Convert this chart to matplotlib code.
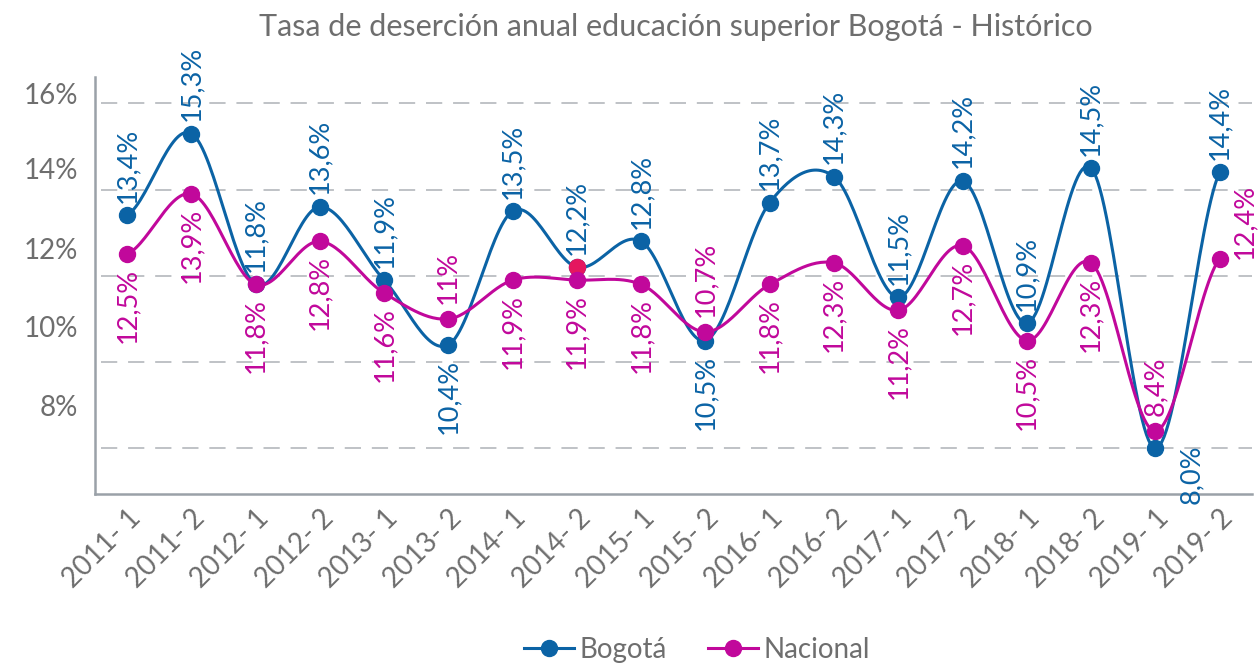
import matplotlib
matplotlib.use("Agg")
from matplotlib import pyplot as plt
from matplotlib.lines import Line2D
from matplotlib.transforms import ScaledTranslation
import numpy as np

# data
periods = ["2011- 1", "2011- 2", "2012- 1", "2012- 2", "2013- 1", "2013- 2",
           "2014- 1", "2014- 2", "2015- 1", "2015- 2", "2016- 1", "2016- 2",
           "2017- 1", "2017- 2", "2018- 1", "2018- 2", "2019- 1", "2019- 2"]
bogota = [13.4, 15.3, 11.8, 13.6, 11.9, 10.4, 13.5, 12.2, 12.8, 10.5,
          13.7, 14.3, 11.5, 14.2, 10.9, 14.5, 8.0, 14.4]
nacional = [12.5, 13.9, 11.8, 12.8, 11.6, 11.0, 11.9, 11.9, 11.8, 10.7,
            11.8, 12.3, 11.2, 12.7, 10.5, 12.3, 8.4, 12.4]
bogota_txt = ["13,4%", "15,3%", "11,8%", "13,6%", "11,9%", "10,4%", "13,5%", "12,2%", "12,8%",
              "10,5%", "13,7%", "14,3%", "11,5%", "14,2%", "10,9%", "14,5%", "8,0%", "14,4%"]
nacional_txt = ["12,5%", "13,9%", "11,8%", "12,8%", "11,6%", "11%", "11,9%", "11,9%", "11,8%",
                "10,7%", "11,8%", "12,3%", "11,2%", "12,7%", "10,5%", "12,3%", "8,4%", "12,4%"]
grid_vals = [8, 10, 12, 14, 16]
ytick_txt = ["8%", "10%", "12%", "14%", "16%"]

BLUE = "#0b63a5"
MAG = "#c1089b"
GRAY = "#6e6e6e"
FONT = ["Lato", "DejaVu Sans"]

plt.rcParams["font.family"] = FONT


def smooth(y, n=30):
    # Catmull-Rom style smoothing like a spreadsheet "smoothed line"
    y = np.asarray(y, float)
    x = np.arange(len(y), dtype=float)
    ys = np.concatenate([[y[0]], y, [y[-1]]])
    xs_out, ys_out = [], []
    t = np.linspace(0, 1, n)
    for i in range(len(y) - 1):
        p0, p1, p2, p3 = ys[i], ys[i + 1], ys[i + 2], ys[i + 3]
        m1 = (p2 - p0) / 2
        m2 = (p3 - p1) / 2
        h00 = 2 * t**3 - 3 * t**2 + 1
        h10 = t**3 - 2 * t**2 + t
        h01 = -2 * t**3 + 3 * t**2
        h11 = t**3 - t**2
        xs_out.append(x[i] + t)
        ys_out.append(h00 * p1 + h10 * m1 + h01 * p2 + h11 * m2)
    return np.concatenate(xs_out), np.concatenate(ys_out)


fig = plt.figure(figsize=(12.58, 6.64), dpi=100)
ax = fig.add_axes([0.0755, 0.256, 0.9195, 0.628])
x = np.arange(len(periods))

for v in grid_vals:
    ax.axhline(v, xmin=0.005, color="#babdc1", lw=1.3, ls=(0, (9, 6)), zorder=0)

sx, sy = smooth(bogota)
ax.plot(sx, sy, color=BLUE, lw=2.2, zorder=2)
ax.plot(x, bogota, "o", color=BLUE, ms=11.5, zorder=3)
# 2014-2 Bogotá marker is drawn red in the original
ax.plot(x[7], bogota[7], "o", color="#e5175f", ms=11.5, zorder=3)
sx, sy = smooth(nacional)
ax.plot(sx, sy, color=MAG, lw=2.2, zorder=4)
ax.plot(x, nacional, "o", color=MAG, ms=11.5, zorder=5)

# data labels
LFS = 19.5
b_below = {5, 9}
for i, (v, t) in enumerate(zip(bogota, bogota_txt)):
    if i == 16:
        ax.annotate(t, (i, v), xytext=(26, 3), textcoords="offset points",
                    rotation=90, ha="center", va="top", color=BLUE, fontsize=LFS)
    elif i in b_below:
        ax.annotate(t, (i, v), xytext=(0, -10), textcoords="offset points",
                    rotation=90, ha="center", va="top", color=BLUE, fontsize=LFS)
    else:
        ax.annotate(t, (i, v), xytext=(0, 9), textcoords="offset points",
                    rotation=90, ha="center", va="bottom", color=BLUE, fontsize=LFS)

n_above = {5, 9, 16}
for i, (v, t) in enumerate(zip(nacional, nacional_txt)):
    if i == 17:
        ax.annotate(t, (i, v), xytext=(18, 0), textcoords="offset points",
                    rotation=90, ha="center", va="bottom", color=MAG, fontsize=LFS)
    elif i in n_above:
        ax.annotate(t, (i, v), xytext=(0, 11), textcoords="offset points",
                    rotation=90, ha="center", va="bottom", color=MAG, fontsize=LFS)
    else:
        ax.annotate(t, (i, v), xytext=(0, -10), textcoords="offset points",
                    rotation=90, ha="center", va="top", color=MAG, fontsize=LFS)

ax.set_xlim(-0.5, len(periods) - 0.5)
ax.set_ylim(6.94, 16.61)
ax.set_xticks(x)
ax.set_xticklabels(periods, rotation=45, ha="right", va="top",
                   rotation_mode="anchor", color=GRAY, fontsize=20)
shift = ScaledTranslation(12 / 100, 0, fig.dpi_scale_trans)
for lab in ax.get_xticklabels():
    lab.set_transform(lab.get_transform() + shift)
# y labels in the original sit above their gridlines
ax.set_yticks([9.0, 10.82, 12.64, 14.49, 16.22])
ax.set_yticklabels(ytick_txt, color=GRAY, fontsize=20)
ax.tick_params(length=0)
ax.tick_params(axis="x", pad=8)
ax.tick_params(axis="y", pad=12)
for s in ["top", "right"]:
    ax.spines[s].set_visible(False)
for s in ["left", "bottom"]:
    ax.spines[s].set_color("#9aa1a8")
    ax.spines[s].set_linewidth(1.8)

fig.text(0.537, 1 - 27 / 664, "Tasa de deserción anual educación superior Bogotá - Histórico",
         ha="center", va="center", color=GRAY, fontsize=22)

handles = [Line2D([], [], color=BLUE, lw=2.2, marker="o", ms=11.5),
           Line2D([], [], color=MAG, lw=2.2, marker="o", ms=11.5)]
fig.legend(handles, ["Bogotá", "Nacional"], loc="center", bbox_to_anchor=(0.554, 0.021),
           ncol=2, frameon=False, fontsize=20, labelcolor=GRAY, handlelength=1.8,
           handletextpad=0.2, columnspacing=1.5)

fig.savefig("out.png", dpi=100)
